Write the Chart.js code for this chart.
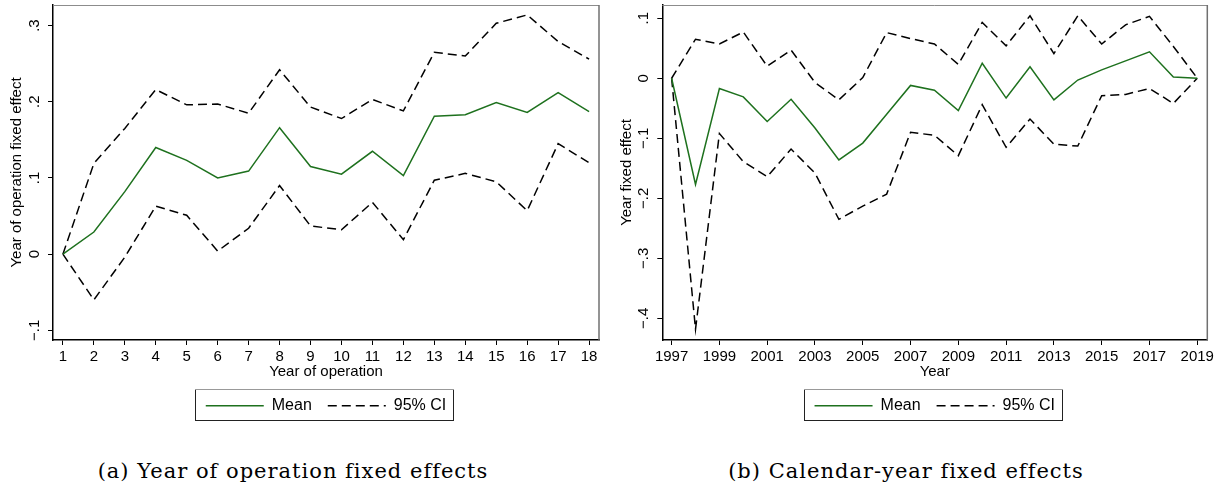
<!DOCTYPE html>
<html>
<head>
<meta charset="utf-8">
<script src="https://cdn.jsdelivr.net/npm/chart.js@4.4.0/dist/chart.umd.min.js"></script>
<style>
  body { margin: 0; background: #fff; width: 1226px; height: 488px; position: relative; overflow: hidden; }
  canvas { position: absolute; top: 0; }
  .cap { position: absolute; top: 459px; width: 586px; text-align: center; line-height: 24px;
         font-family: "DejaVu Serif", serif; font-size: 21px; letter-spacing: 1px; color: #000; }
</style>
</head>
<body>
<canvas id="c1" width="610" height="440" style="left:0"></canvas>
<canvas id="c2" width="616" height="440" style="left:610px"></canvas>
<div class="cap" style="left:0">(a) Year of operation fixed effects</div>
<div class="cap" style="left:613px">(b) Calendar-year fixed effects</div>
<script>
// panel (a): year of operation
var opYears = [1, 2, 3, 4, 5, 6, 7, 8, 9, 10, 11, 12, 13, 14, 15, 16, 17, 18];
var opMean  = [0, 0.029, 0.082, 0.140, 0.123, 0.100, 0.109, 0.166, 0.115, 0.105, 0.135, 0.103, 0.181, 0.183, 0.199, 0.186, 0.212, 0.187];
var opUpper = [0, 0.119, 0.165, 0.216, 0.196, 0.197, 0.185, 0.242, 0.193, 0.178, 0.203, 0.188, 0.265, 0.260, 0.303, 0.314, 0.279, 0.256];
var opLower = [0, -0.060, -0.004, 0.063, 0.051, 0.004, 0.034, 0.090, 0.037, 0.032, 0.068, 0.019, 0.097, 0.106, 0.095, 0.057, 0.145, 0.120];
var opYTicks = [-0.1, 0, 0.1, 0.2, 0.3];

// panel (b): calendar year
var calYears = [1997, 1998, 1999, 2000, 2001, 2002, 2003, 2004, 2005, 2006, 2007, 2008, 2009, 2010, 2011, 2012, 2013, 2014, 2015, 2016, 2017, 2018, 2019];
var calMean  = [0, -0.177, -0.017, -0.031, -0.072, -0.035, -0.083, -0.136, -0.108, -0.060, -0.012, -0.020, -0.054, 0.025, -0.033, 0.019, -0.036, -0.003, 0.014, 0.029, 0.044, 0.002, 0];
var calUpper = [0, 0.065, 0.057, 0.077, 0.020, 0.047, -0.007, -0.036, 0.001, 0.076, 0.066, 0.057, 0.023, 0.093, 0.054, 0.104, 0.041, 0.104, 0.057, 0.089, 0.103, 0.053, 0];
var calLower = [0, -0.418, -0.092, -0.139, -0.164, -0.118, -0.158, -0.235, -0.213, -0.193, -0.090, -0.095, -0.129, -0.044, -0.115, -0.068, -0.110, -0.113, -0.029, -0.027, -0.017, -0.042, 0];
var calXTicks = [1997, 1999, 2001, 2003, 2005, 2007, 2009, 2011, 2013, 2015, 2017, 2019];
var calYTicks = [-0.4, -0.3, -0.2, -0.1, 0, 0.1];

var font = { family: "'Liberation Sans', Arial, sans-serif", size: 15 };
var green = '#1e711e';
var dash = [9, 5];

function fmt(v) {
  if (Math.abs(v) < 1e-9) return '0';
  return (v < 0 ? '\u2212' : '') + Math.abs(v).toFixed(1).replace(/^0/, '');
}

function pts(xs, ys) {
  return xs.map(function (x, i) { return { x: x, y: ys[i] }; });
}

// legend items: line samples need the dataset's dash, not the point style
function legendLabels(chart) {
  var items = Chart.defaults.plugins.legend.labels.generateLabels(chart);
  return items.filter(function (it) { return it.datasetIndex < 2; }).map(function (it) {
    var ds = chart.data.datasets[it.datasetIndex];
    it.lineDash = ds.borderDash || [];
    it.lineWidth = ds.borderWidth;
    it.strokeStyle = ds.borderColor;
    it.pointStyle = 'line';
    return it;
  });
}

// frame top/right edges and the legend box
var framePlugin = {
  id: 'frames',
  afterDraw: function (chart) {
    var ctx = chart.ctx, a = chart.chartArea;
    ctx.save();
    ctx.lineWidth = 1;
    ctx.strokeStyle = '#8c8c8c';
    ctx.beginPath();
    ctx.moveTo(a.left, a.top + 0.5);
    ctx.lineTo(a.right, a.top + 0.5);
    ctx.stroke();
    ctx.lineWidth = 1.5;
    ctx.strokeStyle = '#707070';
    ctx.beginPath();
    ctx.moveTo(a.right, a.top);
    ctx.lineTo(a.right, a.bottom);
    ctx.stroke();

    var hb = chart.legend.legendHitBoxes;
    if (hb && hb.length) {
      var l = hb[0].left - 11;
      var last = hb[hb.length - 1];
      var r = last.left + last.width + 7;
      var t = hb[0].top - 9;
      var b = hb[0].top + hb[0].height + 6;
      ctx.lineWidth = 1;
      ctx.strokeStyle = '#222';
      ctx.strokeRect(Math.round(l) + 0.5, Math.round(t) + 0.5, Math.round(r - l), Math.round(b - t));
      ctx.strokeStyle = '#999';
      ctx.beginPath();
      ctx.moveTo(Math.round(l), Math.round(t) + 0.5);
      ctx.lineTo(Math.round(r) + 1, Math.round(t) + 0.5);
      ctx.stroke();
    }
    ctx.restore();
  }
};

function makeChart(id, cfg) {
  return new Chart(document.getElementById(id), {
    type: 'line',
    data: {
      datasets: [
        { label: 'Mean', data: pts(cfg.xs, cfg.mean), borderColor: green, borderWidth: 1.5, pointRadius: 0, tension: 0 },
        { label: '95% CI', data: pts(cfg.xs, cfg.upper), borderColor: '#000', borderWidth: 1.5, borderDash: dash, pointRadius: 0, tension: 0 },
        { label: '95% CI low', data: pts(cfg.xs, cfg.lower), borderColor: '#000', borderWidth: 1.5, borderDash: dash, pointRadius: 0, tension: 0 }
      ]
    },
    options: {
      responsive: false,
      animation: false,
      layout: { padding: { left: 0, top: 5, right: cfg.padRight, bottom: 16.3 } },
      plugins: {
        tooltip: { enabled: false },
        legend: {
          position: 'bottom',
          fullSize: false,
          labels: {
            usePointStyle: true,
            pointStyle: 'line',
            pointStyleWidth: 58,
            padding: 16,
            color: '#000',
            font: { family: font.family, size: 16 },
            generateLabels: legendLabels
          }
        }
      },
      scales: {
        x: {
          type: 'linear',
          min: cfg.xMin,
          max: cfg.xMax,
          afterBuildTicks: function (s) { s.ticks = cfg.xTicks.map(function (v) { return { value: v }; }); },
          ticks: { callback: function (v) { return String(v); }, font: font, color: '#000', padding: 3, maxRotation: 0, autoSkip: false },
          grid: { drawOnChartArea: false, tickLength: 5, color: '#000' },
          border: { color: '#000', width: 1.5 },
          title: { display: true, text: cfg.xTitle, font: font, color: '#000', padding: { top: 0, bottom: 1 } },
          afterFit: function (s) { s.height = 41.7; s.paddingLeft = 0; s.paddingRight = 0; }
        },
        y: {
          type: 'linear',
          min: cfg.yMin,
          max: cfg.yMax,
          afterBuildTicks: function (s) { s.ticks = cfg.yTicks.map(function (v) { return { value: v }; }); },
          ticks: { callback: fmt, font: font, color: '#000', padding: 3, minRotation: 90, maxRotation: 90, crossAlign: 'center' },
          grid: { drawOnChartArea: false, tickLength: 5, color: '#000' },
          border: { color: '#000', width: 1.5 },
          title: { display: true, text: cfg.yTitle, font: font, color: '#000', padding: { top: 8, bottom: 0 } },
          afterFit: function (s) { s.width = cfg.yWidth; s.paddingTop = 0; s.paddingBottom = 0; }
        }
      }
    },
    plugins: [framePlugin]
  });
}

makeChart('c1', {
  xs: opYears, mean: opMean, upper: opUpper, lower: opLower,
  xMin: 0.68, xMax: 18.32, xTicks: opYears,
  yMin: -0.1127, yMax: 0.327, yTicks: opYTicks,
  xTitle: 'Year of operation', yTitle: 'Year of operation fixed effect',
  yWidth: 53, padRight: 11
});

makeChart('c2', {
  xs: calYears, mean: calMean, upper: calUpper, lower: calLower,
  xMin: 1996.61, xMax: 2019.42, xTicks: calXTicks,
  yMin: -0.436, yMax: 0.122, yTicks: calYTicks,
  xTitle: 'Year', yTitle: 'Year fixed effect',
  yWidth: 52.3, padRight: 18.7
});
</script>
</body>
</html>
